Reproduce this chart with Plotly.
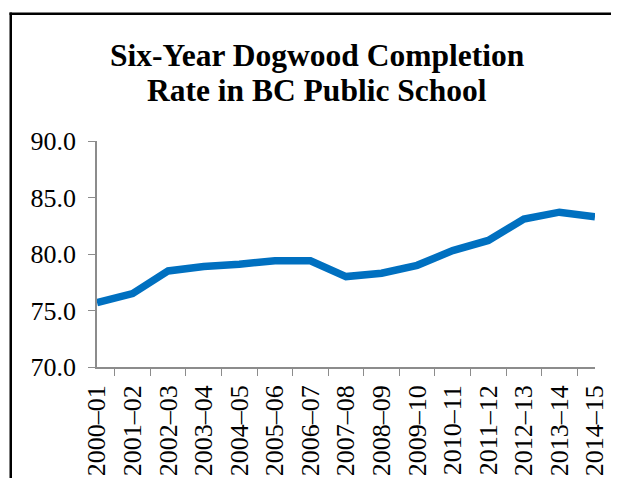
import plotly.graph_objects as go

years = ["2000–01", "2001–02", "2002–03", "2003–04", "2004–05", "2005–06", "2006–07",
         "2007–08", "2008–09", "2009–10", "2010–11", "2011–12", "2012–13", "2013–14", "2014–15"]
rates = [75.7, 76.5, 78.5, 78.9, 79.1, 79.4, 79.4, 78.0, 78.3, 79.0, 80.3, 81.2, 83.1, 83.7, 83.3]
y_ticks = [70, 75, 80, 85, 90]

# page has an 8px body margin; keep the figure inside the window
OFF = 8
W, H = 620 - 2 * OFF, 487 - 2 * OFF
L, T = 97 - OFF, 141 - OFF
pw, ph = 498, 226
R, B = W - L - pw, H - T - ph

fig = go.Figure()
fig.add_trace(go.Scatter(x=years, y=rates, mode="lines",
                         line=dict(color="#0070C0", width=7.5)))

fig.update_layout(
    width=W, height=H,
    margin=dict(l=L, r=R, t=T, b=B, autoexpand=False),
    paper_bgcolor="white", plot_bgcolor="white",
    showlegend=False,
    font=dict(family="Liberation Serif", color="black"),
    xaxis=dict(type="category", tickson="boundaries", ticks="outside", ticklen=7,
               tickcolor="#8c8c8c", showline=True, linecolor="#8c8c8c", linewidth=1.5,
               showgrid=False, tickangle=-90, tickfont=dict(size=26),
               ticklabelstandoff=6, automargin=False),
    yaxis=dict(range=[70, 90], tickvals=y_ticks, tickformat=".1f", ticks="outside",
               ticklen=7, tickcolor="#8c8c8c", showline=True, linecolor="#8c8c8c",
               linewidth=1.5, showgrid=False, zeroline=False, tickfont=dict(size=26),
               ticklabelstandoff=7, automargin=False),
)

title_lines = ["Six-Year Dogwood Completion", "Rate in BC Public School"]
title_y = [55 - OFF, 90 - OFF]
for txt, yc in zip(title_lines, title_y):
    fig.add_annotation(text="<b>" + txt + "</b>", xref="paper", yref="paper",
                       x=(317 - 97) / pw, y=(367 - yc - OFF) / ph, xanchor="center",
                       yanchor="middle", showarrow=False,
                       font=dict(family="Liberation Serif", size=31.5, color="black"))

# outer chart border (top and left edges), drawn as thin filled bars
bw = 2.5
bx0 = (9.5 - 97) / pw
bx1 = (9.5 + bw - 97) / pw
bx_end = (W - L - 1) / pw
by_top1 = (367 - 12.5) / ph
by_top0 = (367 - 12.5 - bw) / ph
by_bot = -(H - T - ph - 1) / ph
fig.add_shape(type="rect", xref="paper", yref="paper", x0=bx0, x1=bx_end,
              y0=by_top0, y1=by_top1, fillcolor="black", line=dict(width=0), layer="below")
fig.add_shape(type="rect", xref="paper", yref="paper", x0=bx0, x1=bx1,
              y0=by_bot, y1=by_top1, fillcolor="black", line=dict(width=0), layer="below")

fig.write_html("out.html")
